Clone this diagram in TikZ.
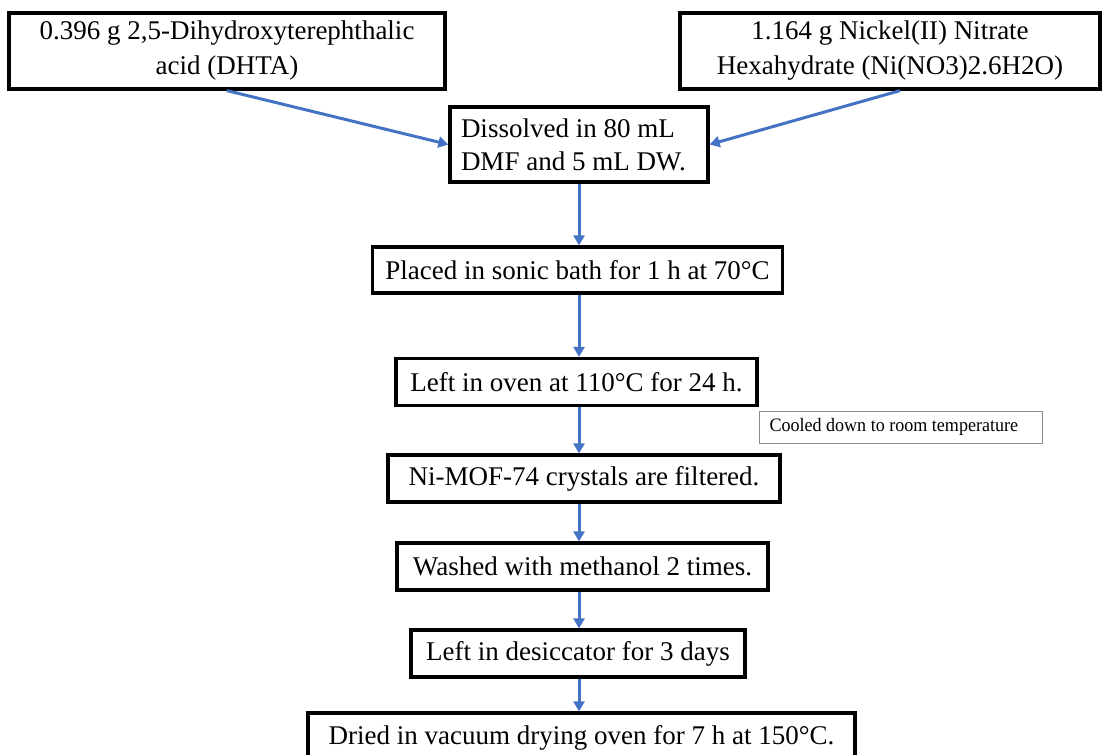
\documentclass[tikz,border=0pt]{standalone}
\usepackage{fontspec}
\setmainfont{Liberation Serif}
\usetikzlibrary{arrows.meta,calc}
\definecolor{arrblue}{HTML}{4472C4}
\definecolor{thingray}{HTML}{8C8C8C}
\begin{document}
\begin{tikzpicture}[x=1pt,y=-1pt,
  stepbox/.style={draw=black,line width=3.3pt,fill=white,inner sep=0pt,
    font=\fontsize{27}{35}\selectfont,align=center},
  notebox/.style={draw=thingray,line width=1pt,fill=white,inner xsep=10pt,inner ysep=0pt,
    text width=263pt,align=flush left},
  arr/.style={draw=arrblue,line width=3pt,-{Triangle[length=10pt,width=11pt]}}]
\clip (0,0) rectangle (1106,755);
\useasboundingbox (0,0) rectangle (1106,755);
\fill[white] (0,0) rectangle (1106,755);
\coordinate (ax) at (579,0);
\node[stepbox,minimum width=436pt,minimum height=76pt] (tl) at (227,51)
  {0.396 g 2,5-Dihydroxyterephthalic\\acid (DHTA)};
\node[stepbox,minimum width=420pt,minimum height=76pt] (tr) at (890,51)
  {1.164 g Nickel(II) Nitrate\\Hexahydrate (Ni(NO3)2.6H2O)};
\node[stepbox,inner xsep=11pt,text width=236pt,minimum height=75pt,align=flush left,
  font=\fontsize{27}{33}\selectfont] (dis) at (579,144.5)
  {Dissolved in 80 mL\\DMF and 5 mL DW.};
\node[stepbox,minimum width=410pt,minimum height=46pt] (son) at (577.5,270)
  {Placed in sonic bath for 1 h at 70°C};
\node[stepbox,minimum width=361pt,minimum height=47pt] (ove) at (576.5,382)
  {Left in oven at 110°C for 24 h.};
\node[notebox,minimum height=32pt] (coo) at (901,427)
  {\scalebox{0.95}[1]{\fontsize{19}{22}\selectfont Cooled down to room temperature}};
\node[stepbox,minimum width=392pt,minimum height=47pt] (mof) at (584,478.5)
  {Ni-MOF-74 crystals are filtered.};
\node[stepbox,minimum width=371pt,minimum height=47pt] (was) at (582.5,566.5)
  {Washed with methanol 2 times.};
\node[stepbox,minimum width=334pt,minimum height=47pt] (des) at (578,653.5)
  {Left in desiccator for 3 days};
\node[stepbox,minimum width=547pt,minimum height=50pt] (dri) at (581.5,738)
  {Dried in vacuum drying oven for 7 h at 150°C.};
\draw[arr] (tl.south) -- (dis.west);
\draw[arr] ($(tr.south)+(10,0)$) -- (dis.east);
\draw[arr] (dis.south -| ax) -- (son.north -| ax);
\draw[arr] (son.south -| ax) -- (ove.north -| ax);
\draw[arr] (ove.south -| ax) -- (mof.north -| ax);
\draw[arr] (mof.south -| ax) -- (was.north -| ax);
\draw[arr] (was.south -| ax) -- (des.north -| ax);
\draw[arr] (des.south -| ax) -- (dri.north -| ax);
\end{tikzpicture}
\end{document}
